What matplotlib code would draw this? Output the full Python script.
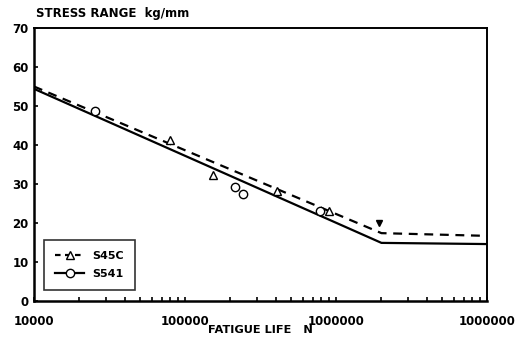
import matplotlib
matplotlib.use("Agg")
import matplotlib.pyplot as plt
from matplotlib.ticker import LogLocator, NullFormatter, FixedLocator, FixedFormatter

# ---- data ----
s45c_N = [8.0e4, 1.53e5, 4.06e5, 9.0e5]
s45c_S = [41.3, 32.3, 28.2, 23.1]
s541_N = [2.54e4, 2.14e5, 2.42e5, 7.8e5]
s541_S = [48.7, 29.2, 27.4, 23.1]
runout_N = [1.93e6]
runout_S = [20.0]

s45c_line_N = [1e4, 2e6, 1e7]
s45c_line_S = [55.0, 17.4, 16.7]
s541_line_N = [1e4, 2e6, 1e7]
s541_line_S = [54.4, 14.9, 14.6]

y_ticks = [0, 10, 20, 30, 40, 50, 60, 70]
x_ticks = [1e4, 1e5, 1e6, 1e7]
x_tick_labels = ["10000", "100000", "1000000", "1000000"]

plt.rcParams['font.family'] = ['DejaVu Sans']
plt.rcParams['font.weight'] = 'bold'

fig = plt.figure(figsize=(5.15, 3.40), dpi=100)
ax = fig.add_axes([34/515, 1-301/340, (487-34)/515, (301-28)/340])

ax.plot(s45c_line_N, s45c_line_S, color='black', lw=1.6, ls=(0, (4, 3)))
ax.plot(s541_line_N, s541_line_S, color='black', lw=1.6, ls='-')
ax.plot(s45c_N, s45c_S, ls='none', marker='^', ms=6, mfc='white', mec='black', mew=1.0)
ax.plot(s541_N, s541_S, ls='none', marker='o', ms=6, mfc='white', mec='black', mew=1.0)
ax.plot(runout_N, runout_S, ls='none', marker='v', ms=4, color='black')

# legend handles
h1, = ax.plot([], [], color='black', lw=1.6, ls=(0, (2.5, 2)), marker='^', ms=6,
              mfc='white', mec='black', mew=1.0)
h2, = ax.plot([], [], color='black', lw=1.6, ls='-', marker='o', ms=6,
              mfc='white', mec='black', mew=1.0)
leg = ax.legend([h1, h2], ["S45C", "S541"], loc='lower left',
                bbox_to_anchor=(0.01, 0.02), frameon=True, fancybox=False,
                edgecolor='black', handlelength=2.6, handletextpad=0.7,
                borderpad=1.0, labelspacing=0.7, prop={'weight': 'bold', 'size': 8})
leg.get_frame().set_linewidth(1.2)

ax.set_xscale('log')
ax.set_xlim(1e4, 1e7)
ax.set_ylim(0, 70)
ax.set_yticks(y_ticks)
ax.set_yticklabels([str(v) for v in y_ticks], fontsize=8.5, fontweight='bold')
ax.xaxis.set_major_locator(FixedLocator(x_ticks))
ax.xaxis.set_major_formatter(FixedFormatter(x_tick_labels))
ax.xaxis.set_minor_locator(LogLocator(base=10, subs=range(2, 10)))
ax.xaxis.set_minor_formatter(NullFormatter())
for lab in ax.get_xticklabels():
    lab.set_fontsize(8.5)
    lab.set_fontweight('bold')

ax.tick_params(axis='both', which='both', direction='in', length=3, width=1.2, color='black')
ax.tick_params(axis='x', which='major', pad=10)
ax.tick_params(axis='y', which='major', pad=4)
for s in ['left', 'bottom']:
    ax.spines[s].set_linewidth(1.8)
for s in ['top', 'right']:
    ax.spines[s].set_linewidth(1.4)

fig.text(36/515, 1-13/340, "STRESS RANGE  kg/mm", fontsize=8.5, fontweight='bold',
         ha='left', va='center')
fig.text(260/515, 1-330/340, "FATIGUE LIFE   N", fontsize=8.2, fontweight='bold',
         ha='center', va='center')

fig.savefig("out.png", dpi=100)
